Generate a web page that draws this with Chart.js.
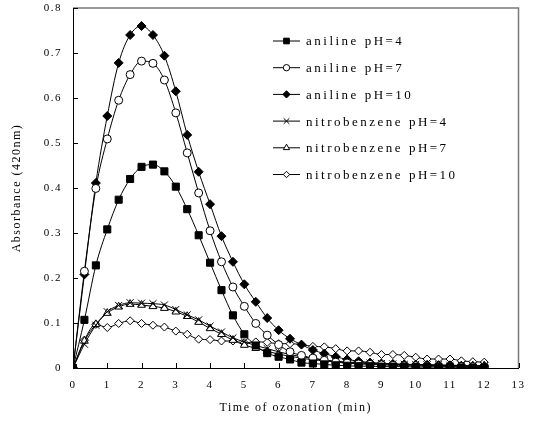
<!DOCTYPE html>
<html><head><meta charset="utf-8">
<script src="https://cdn.jsdelivr.net/npm/chart.js@4.4.0/dist/chart.umd.min.js"></script>
<style>html,body{margin:0;padding:0;background:#fff}#wrap{width:535px;height:423px}</style>
</head><body><div id="wrap"><canvas id="c" width="535" height="423"></canvas></div>
<script>
// ---- data ----
const times = [0,0.333,0.667,1,1.333,1.667,2,2.333,2.667,3,3.333,3.667,4,4.333,4.667,5,5.333,5.667,6,6.333,6.667,7,7.333,7.667,8,8.333,8.667,9,9.333,9.667,10,10.333,10.667,11,11.333,11.667,12];
const seriesNames = ['aniline pH=4','aniline pH=7','aniline pH=10','nitrobenzene pH=4','nitrobenzene pH=7','nitrobenzene pH=10'];
const anilinePH4 = [0,0.107,0.228,0.308,0.374,0.420,0.447,0.452,0.437,0.403,0.353,0.295,0.234,0.173,0.117,0.075,0.050,0.033,0.025,0.019,0.012,0.010,0.008,0.006,0.005,0.004,0.004,0.003,0.003,0.003,0.002,0.002,0.002,0.002,0.001,0.001,0.001];
const anilinePH7 = [0,0.215,0.399,0.509,0.595,0.652,0.682,0.677,0.640,0.567,0.478,0.389,0.305,0.236,0.180,0.137,0.099,0.073,0.052,0.036,0.028,0.022,0.017,0.013,0.011,0.009,0.008,0.007,0.006,0.005,0.005,0.004,0.004,0.003,0.003,0.003,0.002];
const anilinePH10 = [0,0.208,0.411,0.560,0.678,0.740,0.760,0.740,0.694,0.615,0.518,0.436,0.364,0.293,0.236,0.186,0.147,0.111,0.084,0.065,0.052,0.040,0.032,0.025,0.019,0.015,0.012,0.010,0.009,0.008,0.007,0.006,0.006,0.005,0.005,0.004,0.004];
const nitroPH4 = [0,0.053,0.095,0.125,0.139,0.145,0.144,0.143,0.140,0.130,0.118,0.107,0.093,0.080,0.067,0.058,0.050,0.043,0.036,0.030,0.025,0.021,0.018,0.015,0.013,0.012,0.011,0.010,0.009,0.008,0.008,0.007,0.007,0.006,0.006,0.005,0.005];
const nitroPH7 = [0,0.060,0.097,0.122,0.136,0.142,0.140,0.137,0.133,0.125,0.115,0.102,0.088,0.075,0.062,0.051,0.044,0.037,0.031,0.026,0.022,0.018,0.016,0.014,0.012,0.011,0.010,0.009,0.008,0.008,0.007,0.007,0.006,0.006,0.005,0.005,0.005];
const nitroPH10 = [0,0.062,0.097,0.090,0.099,0.105,0.099,0.095,0.091,0.082,0.075,0.064,0.063,0.060,0.060,0.056,0.058,0.057,0.054,0.054,0.052,0.048,0.047,0.043,0.038,0.038,0.035,0.030,0.030,0.028,0.024,0.020,0.020,0.020,0.016,0.014,0.013];
const xTickValues = [0,1,2,3,4,5,6,7,8,9,10,11,12,13];
const yTickValues = [0,0.1,0.2,0.3,0.4,0.5,0.6,0.7,0.8];
const xTitle = 'Time of ozonation (min)';
const yTitle = 'Absorbance (420nm)';

// ---- styles ----
const seriesValues = [anilinePH4, anilinePH7, anilinePH10, nitroPH4, nitroPH7, nitroPH10];
const markerStyles = [
  {pointStyle:'rect', radius:5, fill:'#000'},
  {pointStyle:'circle', radius:4, fill:'#fff'},
  {pointStyle:'rectRot', radius:4.5, fill:'#000'},
  {pointStyle:'crossRot', radius:5, fill:'#000'},
  {pointStyle:'triangle', radius:4.5, fill:'#fff'},
  {pointStyle:'rectRot', radius:4, fill:'#fff'}
];
const FONT = '"Liberation Serif", "Times New Roman", serif';

const datasets = seriesValues.map((vals, i) => ({
  label: seriesNames[i],
  data: vals.map((v, k) => ({x: times[k], y: v})),
  borderColor: '#000',
  borderWidth: 1,
  pointStyle: markerStyles[i].pointStyle,
  pointRadius: markerStyles[i].radius,
  pointBackgroundColor: markerStyles[i].fill,
  pointBorderColor: '#000',
  pointBorderWidth: 1,
  cubicInterpolationMode: 'monotone',
  fill: false
}));

const deco = {
  id: 'deco',
  beforeDraw(chart) {
    chart.ctx.letterSpacing = '1.5px';
  },
  afterDraw(chart) {
    const ctx = chart.ctx, a = chart.chartArea, xs = chart.scales.x, ys = chart.scales.y;
    ctx.save();
    // top/right frame
    ctx.strokeStyle = '#7a7a7a';
    ctx.lineWidth = 1.5;
    ctx.beginPath();
    ctx.moveTo(a.left, a.top);
    ctx.lineTo(a.right, a.top);
    ctx.lineTo(a.right, a.bottom);
    ctx.stroke();
    // inward tick marks
    ctx.strokeStyle = '#000';
    ctx.lineWidth = 1;
    ctx.beginPath();
    xTickValues.forEach(v => {
      const px = Math.round(xs.getPixelForValue(v)) + 0.5;
      ctx.moveTo(px, a.bottom);
      ctx.lineTo(px, a.bottom - 5);
    });
    yTickValues.forEach(v => {
      const py = Math.round(ys.getPixelForValue(v)) + 0.5;
      ctx.moveTo(a.left, py);
      ctx.lineTo(a.left + 5, py);
    });
    ctx.stroke();
    // legend
    const lx = a.left + 200, ly = a.top + 33, gap = 26.7;
    ctx.font = '13px ' + FONT;
    ctx.letterSpacing = '2.5px';
    ctx.textBaseline = 'middle';
    ctx.textAlign = 'left';
    ctx.fillStyle = '#000';
    seriesNames.forEach((name, i) => {
      const y = ly + i * gap;
      ctx.strokeStyle = '#000';
      ctx.lineWidth = 1;
      ctx.beginPath();
      ctx.moveTo(lx, y);
      ctx.lineTo(lx + 27, y);
      ctx.stroke();
      ctx.fillStyle = markerStyles[i].fill;
      ctx.strokeStyle = '#000';
      if (Chart.helpers && Chart.helpers.drawPoint) {
        Chart.helpers.drawPoint(ctx, {pointStyle: markerStyles[i].pointStyle, radius: markerStyles[i].radius * 0.8, borderWidth: 1, rotation: 0}, lx + 13.5, y);
      }
      ctx.fillStyle = '#000';
      ctx.fillText(name, lx + 33, y + 1);
    });
    ctx.restore();
  }
};

new Chart(document.getElementById('c'), {
  type: 'line',
  data: {datasets},
  options: {
    responsive: false,
    animation: false,
    devicePixelRatio: 1,
    layout: {padding: {left: 0, top: 8, right: 13, bottom: 0}},
    plugins: {legend: {display: false}, tooltip: {enabled: false}},
    scales: {
      x: {
        type: 'linear', min: 0, max: 13,
        afterFit: s => { s.height = 55; },
        afterBuildTicks: s => { s.ticks = xTickValues.map(v => ({value: v})); },
        grid: {display: false, drawTicks: false},
        border: {display: true, color: '#000', width: 1},
        ticks: {padding: 11, color: '#000', font: {family: FONT, size: 11}, maxRotation: 0, autoSkip: false},
        title: {display: true, text: xTitle, color: '#000', font: {family: FONT, size: 12}, padding: {top: 0, bottom: 8}}
      },
      y: {
        type: 'linear', min: 0, max: 0.8,
        afterFit: s => { s.width = 73; s.paddingTop = 0; s.paddingBottom = 0; },
        afterBuildTicks: s => { s.ticks = yTickValues.map(v => ({value: v})); },
        grid: {display: false, drawTicks: false},
        border: {display: true, color: '#000', width: 1},
        ticks: {padding: 11, color: '#000', font: {family: FONT, size: 11}},
        title: {display: true, text: yTitle, color: '#000', font: {family: FONT, size: 12}, padding: {top: 10, bottom: 0}}
      }
    }
  },
  plugins: [deco]
});
</script></body></html>
